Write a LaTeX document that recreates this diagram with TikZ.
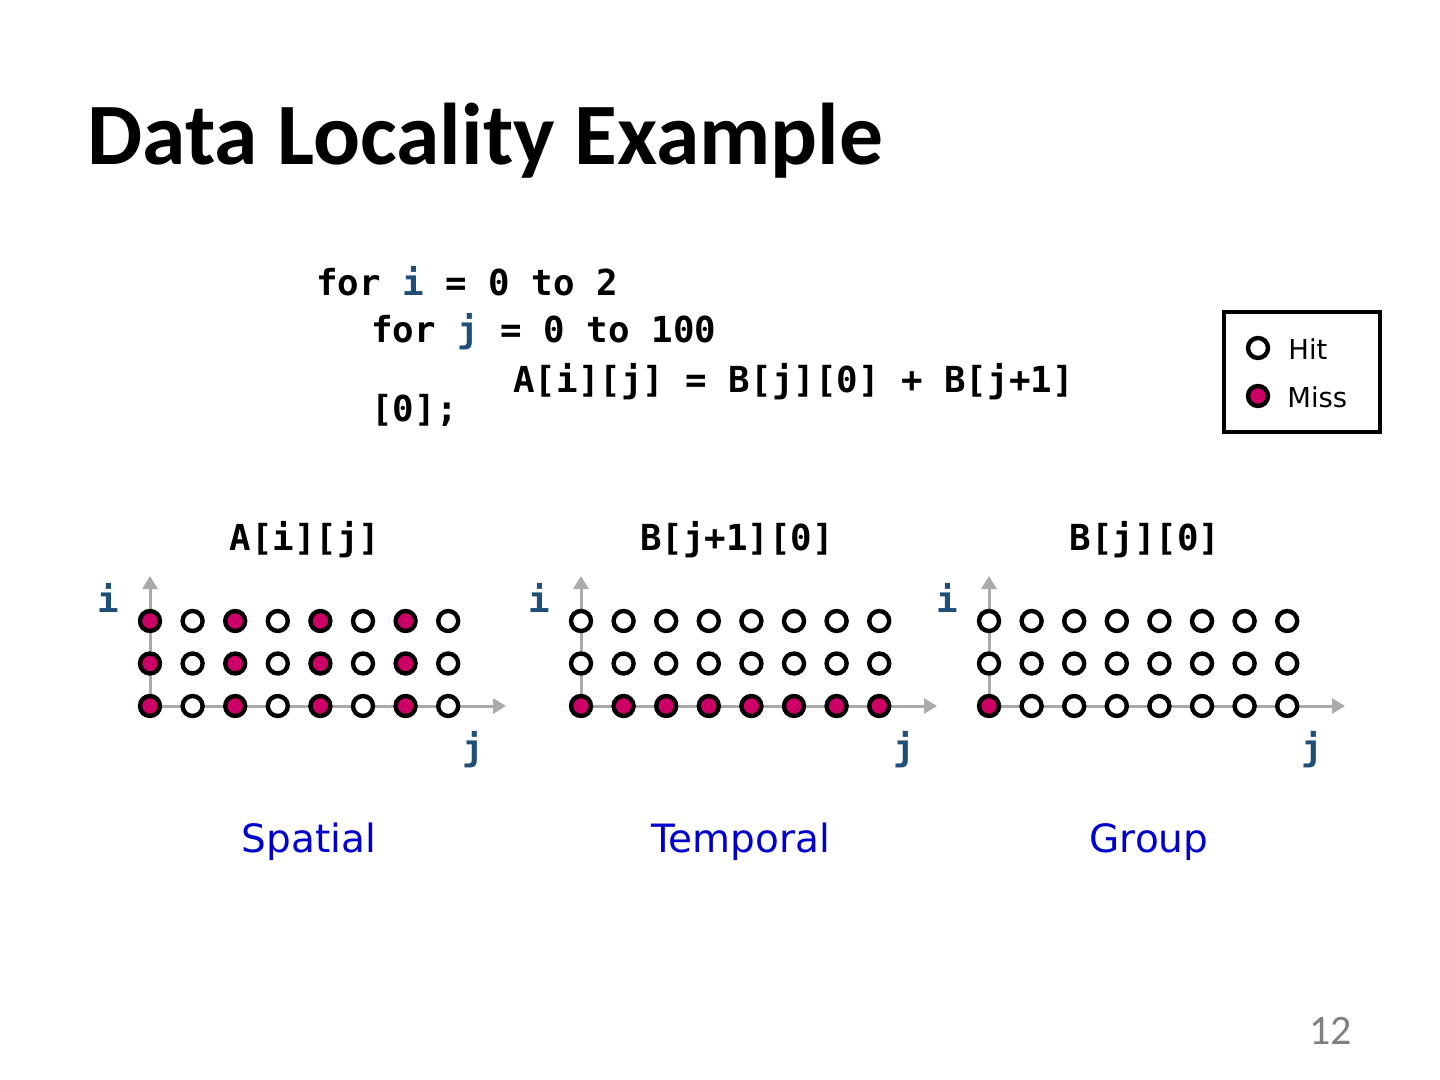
\documentclass[tikz,border=0pt]{standalone}
\usepackage{fontspec}
\setmainfont{DejaVu Sans}
\newfontfamily\titlefont{Carlito}
\newfontfamily\codefont{DejaVu Sans Mono}
\usetikzlibrary{arrows.meta}
\definecolor{missc}{RGB}{204,0,102}
\definecolor{varc}{RGB}{31,78,121}
\definecolor{lblc}{RGB}{0,0,204}
\definecolor{axisc}{RGB}{170,170,170}
\tikzset{
  dot/.style={circle, draw=black, line width=2.2pt, minimum size=10pt, inner sep=0pt},
  code/.style={font=\codefont\bfseries\fontsize{17.9pt}{20pt}\selectfont, anchor=base west, inner sep=0pt},
  clabel/.style={font=\codefont\bfseries\fontsize{17.9pt}{20pt}\selectfont, anchor=base, inner sep=0pt},
  axlabel/.style={font=\codefont\bfseries\fontsize{17.9pt}{20pt}\selectfont, text=varc, anchor=base, inner sep=0pt},
  kind/.style={font=\fontsize{19.5pt}{22pt}\selectfont, text=lblc, anchor=base, inner sep=0pt},
  axis/.style={draw=axisc, line width=1.5pt, -{Triangle[length=6.5pt,width=7.5pt]}},
}
\begin{document}
\begin{tikzpicture}[x=0.5pt,y=-0.5pt]
\useasboundingbox (0,0) rectangle (1440,1080);
% title
\node[font=\titlefont\bfseries\fontsize{43.8pt}{48pt}\selectfont, anchor=base west, inner sep=0pt] (title) at (87,165) {Data Locality Example};
% code
\node[code] (c1) at (316,296) {for \textcolor{varc}{i} = 0 to 2};
\node[code] (c2) at (371,343) {for \textcolor{varc}{j} = 0 to 100};
\node[code] (c3) at (513,393) {A[i][j] = B[j][0] + B[j+1]};
\node[code] (c4) at (371,422) {[0];};
% legend
\node[draw=black, line width=2pt, minimum width=78pt, minimum height=60pt, inner sep=0pt] (legend) at (1302,372) {};
\node[dot, fill=white] (lhit) at (1258,348) {};
\node[dot, fill=missc] (lmiss) at (1258,396) {};
\node[font=\fontsize{13.7pt}{16pt}\selectfont, anchor=base west, inner sep=0pt] (thit) at (1288,360) {Hit};
\node[font=\fontsize{13.7pt}{16pt}\selectfont, anchor=base west, inner sep=0pt] (tmiss) at (1287,408) {Miss};
% panel labels
\node[clabel] (h1) at (305,550) {A[i][j]};
\node[clabel] (h2) at (737,550) {B[j+1][0]};
\node[clabel] (h3) at (1145,550) {B[j][0]};
\node[kind] (k1) at (309,852) {Spatial};
\node[kind] (k2) at (741,852) {Temporal};
\node[kind] (k3) at (1149,852) {Group};
% panels
\foreach \p/\xo in {1/150,2/581,3/989}{
  \coordinate (o\p) at (\xo,706);
  \coordinate (ti\p) at (\xo,576);
  \coordinate (tj\p) at (\xo+356,706);
  \draw[axis] (o\p) -- (ti\p);
  \draw[axis] (o\p) -- (tj\p);
  \node[axlabel] (li\p) at (\xo-42,612) {i};
  \node[axlabel] (lj\p) at (\xo+323,760) {j};
  \foreach \r in {0,1,2}{
    \foreach \c in {0,...,7}{
      \pgfmathtruncatemacro\m{(\p==1)*(mod(\c,2)==0) + (\p==2)*(\r==2) + (\p==3)*(\r==2)*(\c==0)}
      \ifnum\m>0 \def\fc{missc}\else\def\fc{white}\fi
      \node[dot, fill=\fc] (d\p-\r-\c) at (\xo+42.6*\c, 621+42.5*\r) {};
    }
  }
}
% page number
\node[font=\titlefont\fontsize{21pt}{24pt}\selectfont, text=gray, anchor=base east, inner sep=0pt] (pg) at (1352,1044) {12};
\end{tikzpicture}
\end{document}
